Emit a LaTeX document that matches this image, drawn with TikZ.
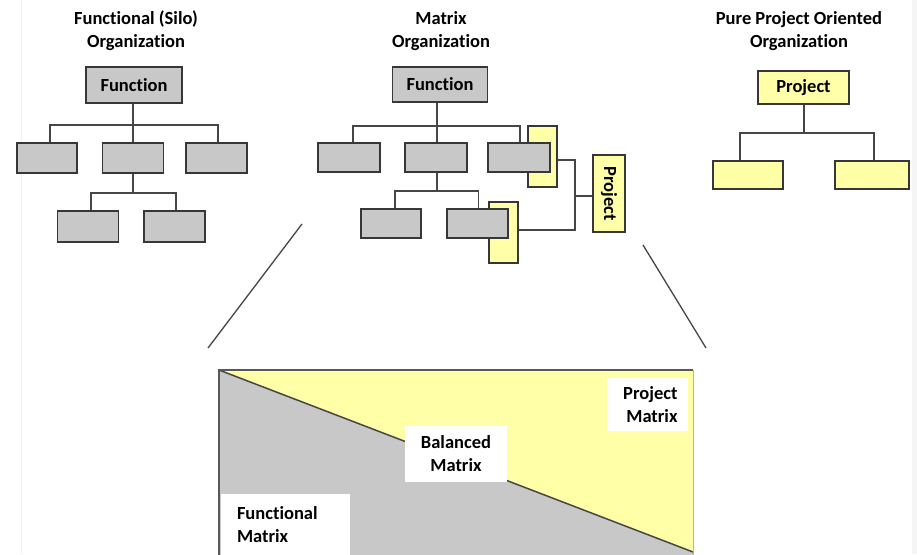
\documentclass[tikz,border=0pt]{standalone}
\usepackage{fontspec}
\setmainfont{Carlito}[Ligatures={NoCommon,NoContextual}]
\usepackage{graphicx}
\definecolor{boxgray}{RGB}{200,200,200}
\definecolor{boxyel}{RGB}{255,255,168}
\definecolor{edge}{RGB}{55,55,55}
\definecolor{wire}{RGB}{70,70,70}
\tikzset{
  every node/.style={font=\bfseries\fontsize{18.5}{23}\selectfont, text=black},
  gbox/.style={draw=edge, line width=1.8pt, fill=boxgray, inner sep=0pt},
  ybox/.style={draw=edge, line width=1.8pt, fill=boxyel, inner sep=0pt},
  wirel/.style={draw=wire, line width=1.5pt},
  title/.style={align=center, inner sep=0pt, anchor=north},
  lbl/.style={fill=white, inner sep=0pt},
}
\begin{document}
\begin{tikzpicture}[x=1pt,y=-1pt]
\clip (0,0) rectangle (917,554);
\fill[white] (0,0) rectangle (917,554);
\fill[gray!8] (912,0) rectangle (917,554);
\draw[gray!12, line width=0.6pt] (21,0) -- (21,554);

% ---------- Titles ----------
\node[title] (t1) at (136,11) {Functional (Silo)\\Organization};
\node[title] (t2) at (441,11) {Matrix\\Organization};
\node[title] (t3) at (799,11) {Pure Project Oriented\\Organization};

% ---------- Functional (Silo) ----------
\node[gbox, minimum width=96, minimum height=36] (f1) at (134,85) {Function};
\node[gbox, minimum width=60, minimum height=30] (a1) at (47,158) {};
\node[gbox, minimum width=61, minimum height=30] (a2) at (133,158) {};
\node[gbox, minimum width=61, minimum height=30] (a3) at (216.5,158) {};
\node[gbox, minimum width=61, minimum height=31] (a4) at (88,226.5) {};
\node[gbox, minimum width=61, minimum height=31] (a5) at (174.5,226.5) {};
\coordinate (b1) at (133,125);
\coordinate (b2) at (133,193);
\draw[wirel] (f1.south -| b1) -- (b1);
\draw[wirel] ([xshift=3pt]a1.north) |- (b1) -| ([xshift=1.5pt]a3.north);
\draw[wirel] (b1) -- (a2.north);
\draw[wirel] (a2.south) -- (b2);
\draw[wirel] ([xshift=3pt]a4.north) |- (b2) -| ([xshift=1.5pt]a5.north);

% ---------- Matrix ----------
\node[gbox, minimum width=95, minimum height=35] (f2) at (440,84.5) {Function};
\node[ybox, minimum width=29, minimum height=61] (y1) at (542.5,156.5) {};
\node[ybox, minimum width=29, minimum height=61] (y2) at (503.5,232.5) {};
\node[gbox, minimum width=62, minimum height=29] (m1) at (349,157.5) {};
\node[gbox, minimum width=62, minimum height=29] (m2) at (436,157.5) {};
\node[gbox, minimum width=62, minimum height=29] (m3) at (519,157.5) {};
\node[gbox, minimum width=60, minimum height=29] (m4) at (391,223.5) {};
\node[gbox, minimum width=61, minimum height=29] (m5) at (477.5,223.5) {};
\node[ybox, minimum width=32, minimum height=77] (pj) at (609,193.5) {\rotatebox{-90}{Project}};
\coordinate (b3) at (437,126);
\coordinate (b4) at (437,191);
\coordinate (j) at (575,196);
\draw[wirel] (f2.south -| b3) -- (b3);
\draw[wirel] ([xshift=4pt]m1.north) |- (b3) -| ([xshift=1pt]m3.north);
\draw[wirel] (b3) -- (m2.north -| b3);
\draw[wirel] (m2.south -| b4) -- (b4);
\draw[wirel] ([xshift=4pt]m4.north) |- (b4) -| ([xshift=1pt]m5.north);
\draw[wirel] ([yshift=-3.5pt]y1.east) -| (j) |- ([yshift=2.5pt]y2.east);
\draw[wirel] (j) -- (pj.west |- j);

% ---------- Pure Project ----------
\node[ybox, minimum width=91, minimum height=33] (p1) at (803.5,87.5) {Project};
\node[ybox, minimum width=70, minimum height=28] (r1) at (748,175) {};
\node[ybox, minimum width=74, minimum height=28] (r2) at (872,175) {};
\coordinate (b5) at (804,133);
\draw[wirel] (p1.south -| b5) -- (b5);
\draw[wirel] ([xshift=-8pt]r1.north) |- (b5) -| ([xshift=2pt]r2.north);

% ---------- Zoom lines ----------
\coordinate (zl1) at (302,224);
\coordinate (zl2) at (208,348);
\coordinate (zr1) at (643,245);
\coordinate (zr2) at (706,348);
\draw[wirel, line width=1.3pt] (zl1) -- (zl2);
\draw[wirel, line width=1.3pt] (zr1) -- (zr2);

% ---------- Matrix spectrum ----------
\coordinate (tl) at (219,370);
\coordinate (tr) at (693,370);
\coordinate (dr) at (693,552);
\fill[boxyel] (tl) -- (tr) -- (dr) -- cycle;
\fill[boxgray] (tl) -- (dr) -- (693,560) -- (219,560) -- cycle;
\draw[wire, line width=1.5pt] (tl) -- (dr);
\draw[gray!60, line width=1pt] (tr) -- (693,560);
\draw[wire!90, line width=1.5pt] (219,560) -- (tl) -- (tr);

\node[lbl, minimum width=81, minimum height=53, text width=60, inner xsep=10.5pt, align=right] (lp) at (647.5,404.5) {Project\\Matrix};
\node[lbl, minimum width=102, minimum height=56, align=center] (lb) at (456,454) {Balanced\\Matrix};
\node[lbl, minimum width=129, minimum height=62, text width=97, align=left] (lf) at (285.5,525) {Functional\\Matrix};
\end{tikzpicture}
\end{document}
